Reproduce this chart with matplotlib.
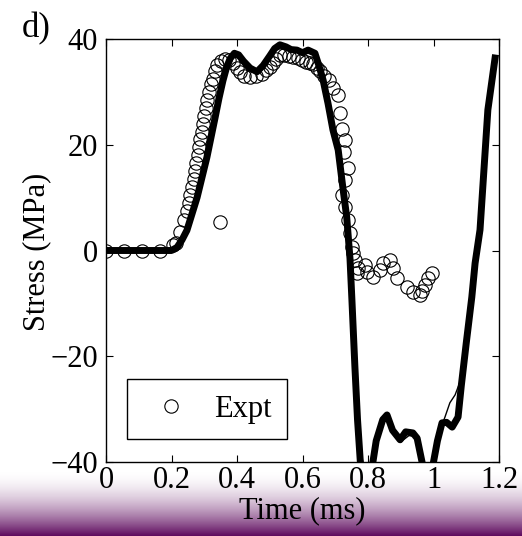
import numpy as np
import matplotlib
matplotlib.use("Agg")
import matplotlib.pyplot as plt
from matplotlib.colors import LinearSegmentedColormap

# ---- data -------------------------------------------------------------
expt_t = [0.000, 0.055, 0.110, 0.165, 0.205, 0.213, 0.226, 0.238, 0.247, 0.253,
          0.258, 0.263, 0.268, 0.272, 0.276, 0.280, 0.284, 0.288, 0.292, 0.296,
          0.300, 0.305, 0.309, 0.314, 0.320, 0.327, 0.333, 0.339, 0.348, 0.352,
          0.363, 0.375, 0.388, 0.399, 0.409, 0.422, 0.440, 0.458, 0.476, 0.490,
          0.500, 0.510, 0.520, 0.532, 0.545, 0.558, 0.571, 0.586, 0.598, 0.610,
          0.622, 0.632, 0.643, 0.653, 0.665, 0.680, 0.693, 0.708, 0.714, 0.722,
          0.730, 0.727, 0.739, 0.730, 0.720, 0.730, 0.739, 0.745, 0.751, 0.754,
          0.760, 0.766, 0.769, 0.791, 0.797, 0.815, 0.837, 0.846, 0.867, 0.876,
          0.889, 0.919, 0.937, 0.959, 0.965, 0.974, 0.983, 0.995]
expt_y = [0.0, 0.0, 0.0, 0.0, 1.0, 1.5, 3.5, 5.8, 7.5, 9.0,
          10.5, 12.0, 13.5, 15.0, 16.5, 18.0, 19.5, 21.0, 22.5, 24.0,
          25.5, 27.0, 28.5, 30.0, 31.5, 32.5, 34.0, 35.0, 5.4, 35.8,
          36.3, 36.0, 35.5, 34.5, 33.8, 33.0, 32.8, 33.0, 33.3, 34.2,
          34.7, 35.5, 36.3, 37.0, 37.0, 36.8, 36.6, 36.4, 36.0, 35.6,
          35.5, 35.2, 34.5, 34.0, 33.0, 32.2, 30.7, 29.4, 26.0, 23.0,
          20.9, 18.6, 15.6, 13.3, 10.5, 8.2, 5.7, 3.3, 0.6, -0.5,
          -1.8, -4.3, -3.3, -2.7, -4.0, -5.0, -3.7, -2.4, -1.8, -3.3,
          -5.2, -6.9, -7.9, -8.4, -7.6, -6.5, -5.2, -4.3]

sim_t = [0.000, 0.200, 0.217, 0.232, 0.247, 0.262, 0.278, 0.293, 0.308, 0.321,
         0.333, 0.345, 0.357, 0.368, 0.379, 0.392, 0.405, 0.420, 0.440, 0.461,
         0.480, 0.500, 0.515, 0.531, 0.550, 0.565, 0.583, 0.600, 0.617, 0.638,
         0.650, 0.663, 0.678, 0.693, 0.709, 0.722, 0.735, 0.745, 0.751, 0.760,
         0.768, 0.782, 0.800, 0.815, 0.825, 0.845, 0.858, 0.875, 0.898, 0.915,
         0.937, 0.950, 0.965, 0.974, 0.990, 1.000, 1.012, 1.026, 1.040, 1.057,
         1.075, 1.085, 1.100, 1.117, 1.127, 1.142, 1.166, 1.177, 1.188]
sim_y = [0.0, 0.0, 0.6, 2.0, 3.8, 6.8, 10.0, 13.8, 17.6, 21.5,
         25.1, 28.8, 32.1, 34.6, 36.3, 37.3, 37.0, 35.8, 34.5, 33.8,
         35.0, 36.8, 38.2, 38.9, 38.5, 38.0, 37.9, 37.4, 37.9, 37.3,
         35.0, 32.2, 27.8, 22.8, 19.0, 12.5, 6.3, -1.5, -9.5, -22.0,
         -32.0, -45.0, -45.0, -40.0, -36.0, -32.0, -31.1, -34.0, -35.8, -34.3,
         -34.5, -35.5, -40.0, -44.0, -45.0, -40.0, -36.0, -32.6, -32.5, -33.4,
         -31.5, -25.5, -17.5, -8.8, -2.4, 3.9, 26.6, 31.5, 36.4]

sim2_t = [0.000, 0.200, 0.220, 0.250, 0.280, 0.310, 0.335, 0.360, 0.380, 0.392,
          0.410, 0.440, 0.462, 0.490, 0.515, 0.531, 0.560, 0.590, 0.617, 0.640,
          0.665, 0.695, 0.715, 0.735, 0.748, 0.762, 0.778, 0.800, 0.818, 0.835,
          0.858, 0.880, 0.900, 0.925, 0.945, 0.962, 0.985, 1.003, 1.020, 1.035,
          1.050, 1.066, 1.080, 1.100, 1.120, 1.142, 1.166, 1.188]
sim2_y = [0.0, 0.0, 1.0, 4.5, 10.8, 18.5, 26.0, 32.8, 36.2, 37.2,
          36.5, 34.3, 33.6, 36.0, 38.2, 38.7, 38.1, 37.6, 37.7, 36.8,
          31.5, 22.0, 16.5, 6.5, -3.0, -21.0, -38.0, -45.0, -38.5, -34.0,
          -31.5, -34.5, -36.2, -35.0, -35.2, -39.0, -45.0, -41.0, -34.0, -31.5,
          -28.8, -27.3, -25.0, -17.5, -8.0, 3.0, 26.0, 36.2]

xticks = [0, 0.2, 0.4, 0.6, 0.8, 1.0, 1.2]
xtick_labels = ["0", "0.2", "0.4", "0.6", "0.8", "1", "1.2"]
yticks = [-40, -20, 0, 20, 40]
ytick_labels = ["\u221240", "\u221220", "0", "20", "40"]

# ---- figure -----------------------------------------------------------
plt.rcParams["font.family"] = ["Liberation Serif", "DejaVu Serif"]
FS = 22
W, H = 522, 536
fig = plt.figure(figsize=(W / 100, H / 100), dpi=100)

# purple fade along the bottom edge
band = fig.add_axes([0, 0, 1, 66 / H], zorder=0)
band.axis("off")
fade = LinearSegmentedColormap.from_list("fade", ["#ffffff", "#5e0a5e"])
ramp = np.linspace(0, 1, 200) ** 1.8
band.imshow(ramp[:, None], cmap=fade, aspect="auto", extent=[0, 1, 1, 0],
            vmin=0, vmax=1, interpolation="bilinear")
band.set_xlim(0, 1)
band.set_ylim(1, 0)

ax = fig.add_axes([106 / W, 74 / H, 393 / W, 423 / H], zorder=1)

ax.plot(expt_t, expt_y, "o", mfc="none", mec="k", ms=9.6, mew=0.8,
        label="Expt", zorder=2)
ax.plot(sim2_t, sim2_y, "-", color="k", lw=1.0, zorder=3)
ax.plot(sim_t, sim_y, "-", color="k", lw=5.0, solid_joinstyle="round",
        zorder=3)

ax.set_xlim(0, 1.2)
ax.set_ylim(-40, 40)
ax.set_xticks(xticks)
ax.set_xticklabels(xtick_labels)
ax.set_yticks(yticks)
ax.set_yticklabels(ytick_labels)
ax.tick_params(direction="in", top=True, right=True, length=5, width=0.8,
               labelsize=FS)
ax.tick_params(axis="x", pad=3)
ax.tick_params(axis="y", pad=6)
for s in ax.spines.values():
    s.set_linewidth(1.0)

ax.set_xlabel("Time (ms)", fontsize=FS)
ax.xaxis.set_label_coords(0.5, -0.08)
ax.set_ylabel("Stress (MPa)", fontsize=FS)
ax.yaxis.set_label_coords(-0.14, 0.497)

leg = ax.legend(loc="lower left", bbox_to_anchor=(21 / 393, 23 / 423),
                borderaxespad=0, fancybox=False, edgecolor="k", framealpha=1,
                handlelength=1.9, handletextpad=0.46, borderpad=0.5,
                fontsize=FS, numpoints=1)
leg.get_frame().set_linewidth(1.0)

fig.text(22 / W, 1 - 37 / H, "d)", fontsize=25, ha="left", va="baseline")

fig.savefig("out.png", dpi=100)
